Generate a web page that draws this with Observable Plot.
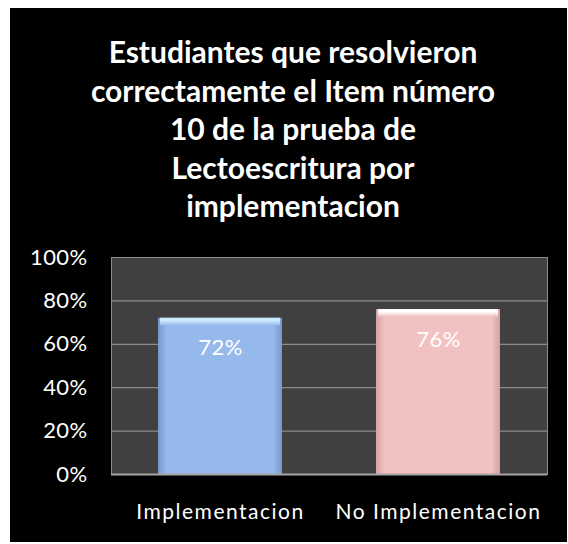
<!DOCTYPE html>
<html><head><meta charset="utf-8">
<script src="https://cdn.jsdelivr.net/npm/d3@7"></script>
<script src="https://cdn.jsdelivr.net/npm/@observablehq/plot@0.6"></script>
<style>
body{margin:0;background:#fff;}
#box{position:absolute;left:10px;top:8px;width:557px;height:534px;background:#000;overflow:hidden;}
#title{position:absolute;left:0;top:24px;width:566px;text-align:center;color:#fff;font-family:Lato,"Open Sans",sans-serif;font-weight:bold;font-size:30px;line-height:38.5px;}
#chart{position:absolute;left:0;top:230px;}
#chart svg text{letter-spacing:0.4px;}
#chart svg g[aria-label="x-axis tick label"] text{letter-spacing:1.5px;}
</style></head><body>
<div id="box">
<div id="title">Estudiantes que resolvieron<br>correctamente el Item número<br>10 de la prueba de<br>Lectoescritura por<br>implementacion</div>
<div id="chart"></div>
</div>
<script>
const categories = ["Implementacion", "No Implementacion"];
const values = [0.72, 0.76];
const yTicks = [0, 0.2, 0.4, 0.6, 0.8, 1];
const fillIds = ["gBlue", "gPink"];

const data = categories.map((c, i) => ({cat: c, v: values[i], fill: "url(#" + fillIds[i] + ")", top: "url(#" + fillIds[i] + "Top)"}));

const svg = Plot.plot({
  width: 557,
  height: 304,
  marginTop: 19,
  marginBottom: 68,
  marginLeft: 101,
  marginRight: 20,
  style: {background: "transparent", color: "#fff", fontFamily: "Lato, 'Open Sans', sans-serif", fontSize: "22px"},
  x: {domain: categories, padding: 0, label: null},
  y: {domain: [0, 1], ticks: yTicks, tickFormat: d3.format(".0%"), label: null},
  marks: [
    Plot.frame({fill: "#404040", stroke: null}),
    Plot.ruleY(yTicks, {stroke: "#8c8c8c", strokeWidth: 1.2}),
    Plot.frame({anchor: "left", stroke: "#8c8c8c"}),
    Plot.frame({anchor: "right", stroke: "#8c8c8c"}),
    Plot.barY(data, {x: "cat", y: "v", fill: "fill", insetLeft: 47, insetRight: 47}),
    Plot.barY(data, {x: "cat", y1: d => d.v - 0.035, y2: "v", fill: "top", insetLeft: 49, insetRight: 49}),
    Plot.ruleY([0], {stroke: "#a6a6a6", strokeWidth: 2}),
    Plot.text(data, {x: "cat", y: "v", text: d => d3.format(".0%")(d.v), dy: 30, fill: "#fff", fontSize: 22}),
    Plot.axisY({ticks: yTicks, tickFormat: d3.format(".0%"), tickSize: 0, tickPadding: 24, fontSize: 22, label: null}),
    Plot.axisX({tickSize: 0, tickPadding: 30, fontSize: 21, label: null})
  ]
});

const defs = d3.select(svg).insert("defs", ":first-child");
function hgrad(id, edge, main) {
  const g = defs.append("linearGradient").attr("id", id).attr("x1", "0").attr("x2", "1").attr("y1", "0").attr("y2", "0");
  [[0, edge], [0.07, main], [0.93, main], [1, edge]].forEach(([o, c]) => g.append("stop").attr("offset", o).attr("stop-color", c));
}
function vgrad(id, light, main) {
  const g = defs.append("linearGradient").attr("id", id).attr("x1", "0").attr("x2", "0").attr("y1", "0").attr("y2", "1");
  [[0, light], [0.35, light], [1, main]].forEach(([o, c]) => g.append("stop").attr("offset", o).attr("stop-color", c));
}
hgrad("gBlue", "#7699cc", "#95b9ea");
hgrad("gPink", "#d3a2a3", "#f2c2c3");
vgrad("gBlueTop", "#cdebfd", "#95b9ea");
vgrad("gPinkTop", "#ffffff", "#f2c2c3");

document.getElementById("chart").appendChild(svg);
</script>
</body></html>
